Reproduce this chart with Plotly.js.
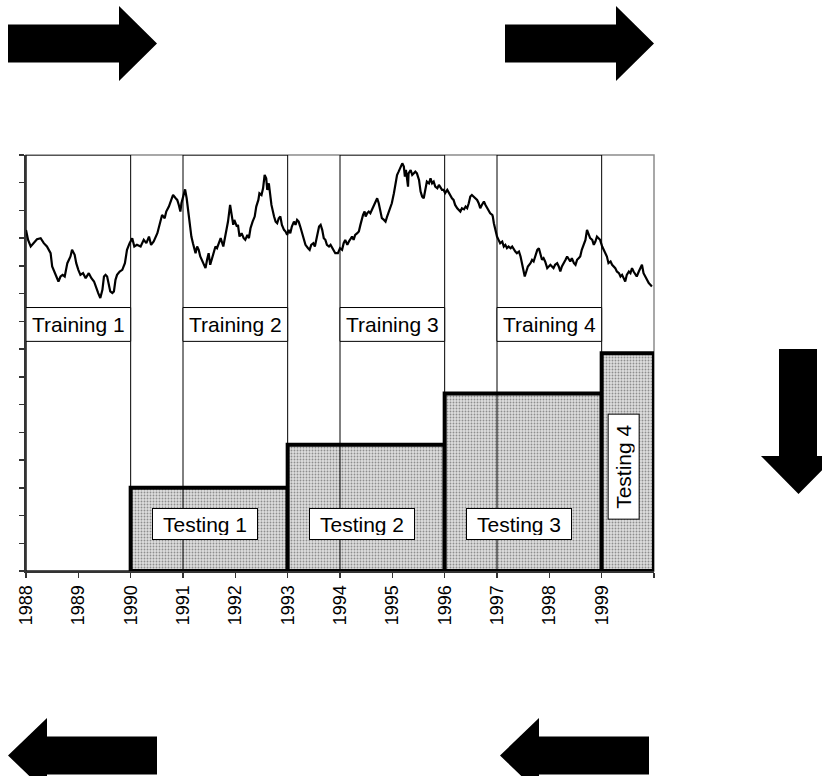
<!DOCTYPE html>
<html>
<head>
<meta charset="utf-8">
<script src="https://cdn.plot.ly/plotly-3.0.1.min.js"></script>
<style>
html,body{margin:0;padding:0;background:#fff;}
#chart{width:822px;height:776px;}
</style>
</head>
<body>
<div id="chart"></div>
<script>
// ---------------- DATA ----------------
const seriesDates = [
 1988.00,1988.04,1988.09,1988.15,1988.21,1988.28,1988.34,1988.40,1988.47,1988.50,
 1988.56,1988.62,1988.66,1988.70,1988.74,1988.79,1988.85,1988.88,1988.93,1988.96,
 1989.00,1989.04,1989.09,1989.14,1989.20,1989.25,1989.30,1989.34,1989.38,1989.42,
 1989.46,1989.49,1989.52,1989.55,1989.58,1989.61,1989.65,1989.68,1989.71,1989.74,
 1989.79,1989.84,1989.89,1989.93,1989.98,
 1990.03,1990.07,1990.12,1990.19,1990.25,1990.30,1990.35,1990.39,1990.44,1990.51,
 1990.56,1990.60,1990.65,1990.68,1990.73,1990.77,1990.81,1990.86,1990.89,1990.92,
 1990.95,1990.97,1991.00,1991.04,1991.07,1991.10,1991.13,1991.16,1991.19,1991.24,
 1991.27,1991.30,1991.33,1991.39,1991.43,1991.46,1991.49,1991.52,1991.56,1991.59,
 1991.62,1991.65,1991.69,1991.72,1991.77,1991.80,1991.83,1991.86,1991.90,1991.93,
 1991.96,1991.98,1992.03,
 1992.05,1992.08,1992.12,1992.16,1992.19,1992.23,1992.26,1992.29,1992.33,1992.37,
 1992.40,1992.44,1992.46,1992.50,1992.53,1992.56,1992.59,1992.61,1992.64,1992.66,
 1992.69,1992.74,1992.77,1992.80,1992.83,1992.86,1992.89,1992.93,1992.96,1992.99,
 1993.02,1993.05,1993.08,1993.12,1993.15,1993.18,1993.21,1993.24,1993.28,1993.31,
 1993.34,1993.39,1993.42,1993.45,1993.49,1993.52,1993.56,1993.60,1993.63,1993.66,
 1993.69,1993.72,1993.75,1993.79,1993.82,1993.85,1993.88,1993.91,1993.96,
 1994.00,1994.04,1994.07,1994.10,1994.14,1994.17,1994.20,1994.23,1994.26,1994.29,
 1994.33,1994.36,1994.39,1994.41,1994.44,1994.47,1994.49,1994.52,1994.55,1994.58,
 1994.61,1994.65,1994.68,1994.71,1994.74,1994.77,1994.80,1994.84,1994.87,1994.90,
 1994.93,1994.96,1994.99,1995.03,1995.06,1995.09,1995.12,1995.15,1995.19,1995.22,
 1995.24,1995.26,1995.30,1995.31,1995.35,1995.38,1995.41,1995.44,1995.47,1995.51,
 1995.54,1995.57,1995.60,1995.63,1995.66,1995.70,1995.73,1995.76,1995.79,1995.82,
 1995.86,1995.89,1995.92,1995.95,1995.98,1996.01,
 1996.05,1996.08,1996.11,1996.14,1996.17,1996.20,1996.24,1996.27,1996.30,1996.33,
 1996.37,1996.40,1996.43,1996.46,1996.49,1996.52,1996.56,1996.59,1996.62,1996.65,
 1996.68,1996.71,1996.75,1996.78,1996.81,1996.84,1996.87,1996.91,1996.92,1996.94,
 1996.97,1997.00,1997.03,1997.06,1997.10,1997.13,1997.16,1997.19,1997.22,1997.26,
 1997.29,1997.32,1997.35,1997.38,1997.42,1997.45,1997.48,1997.51,1997.53,1997.56,
 1997.59,1997.64,1997.67,1997.70,1997.73,1997.77,1997.80,1997.83,1997.86,1997.89,
 1997.92,1997.96,1997.99,1998.02,1998.05,
 1998.08,1998.11,1998.15,1998.18,1998.21,1998.24,1998.28,1998.31,1998.34,1998.37,
 1998.40,1998.43,1998.47,1998.50,1998.53,1998.56,1998.59,1998.62,1998.66,1998.69,
 1998.72,1998.75,1998.78,1998.82,1998.85,1998.88,1998.91,1998.94,1998.97,1999.01,
 1999.04,1999.07,1999.10,1999.13,1999.17,1999.20,1999.23,1999.26,1999.29,1999.33,
 1999.36,1999.39,1999.42,1999.45,1999.48,1999.52,1999.55,1999.58,1999.61,1999.64,
 1999.67,1999.71,1999.74,1999.77,1999.80,1999.83,1999.87,1999.90,1999.93,1999.96
];
const seriesValues = [
 12.30,11.94,11.70,11.82,11.96,12.00,11.82,11.70,11.46,10.98,
 10.74,10.44,10.62,10.68,10.62,11.10,11.34,11.58,11.40,11.10,
 10.86,10.68,10.74,10.56,10.74,10.56,10.44,10.20,10.02,9.84,
 10.14,10.62,10.68,10.62,10.38,10.08,10.02,10.08,10.50,10.68,
 10.80,10.86,11.10,11.58,11.82,
 12.00,11.70,11.76,11.70,11.94,11.82,12.06,11.76,11.88,12.18,
 12.60,12.84,12.72,12.96,13.14,13.38,13.56,13.44,13.38,13.20,
 12.96,13.26,13.50,13.76,13.44,12.96,12.42,12.06,11.82,11.46,
 11.70,11.58,11.34,11.10,10.92,11.22,11.46,11.04,11.34,11.52,
 11.70,11.64,11.88,12.00,11.70,12.00,12.42,12.60,13.20,12.90,
 12.48,12.66,12.42,
 12.48,12.06,12.18,12.00,11.94,12.12,12.00,12.36,12.60,12.78,
 13.14,13.38,13.62,13.56,13.80,14.28,14.16,13.74,13.98,13.62,
 13.20,12.78,12.60,12.54,12.72,12.78,12.48,12.30,12.24,12.12,
 12.30,12.18,12.42,12.60,12.48,12.66,12.60,12.42,12.18,11.94,
 11.76,11.64,11.58,11.76,11.82,11.70,12.12,12.42,12.48,12.30,
 12.00,11.94,11.76,11.70,11.76,11.64,11.52,11.46,11.46,
 11.64,11.58,11.82,11.94,11.76,11.88,12.00,12.06,11.94,12.12,
 12.18,12.24,12.48,12.66,12.84,12.96,12.78,12.90,12.96,12.90,
 13.02,13.14,13.32,13.44,13.26,12.96,12.72,12.66,12.60,12.78,
 12.96,13.08,13.26,13.62,13.98,14.28,14.40,14.52,14.70,14.58,
 14.22,14.46,13.86,14.34,14.46,14.28,14.34,14.40,14.34,14.10,
 13.68,13.50,13.44,13.74,14.04,13.98,14.16,13.98,14.04,13.86,
 13.80,13.92,13.80,13.74,13.74,13.63,
 13.74,13.62,13.50,13.44,13.38,13.20,13.08,13.02,12.96,13.08,
 13.04,13.14,13.08,13.26,13.50,13.56,13.50,13.44,13.38,13.26,
 13.08,13.20,13.32,13.20,13.08,12.96,12.90,12.84,12.78,12.54,
 12.30,12.06,11.94,11.82,11.88,11.70,11.76,11.64,11.70,11.64,
 11.70,11.58,11.52,11.46,11.52,11.34,11.04,10.86,10.62,10.80,
 10.98,11.10,11.22,11.16,11.34,11.58,11.64,11.46,11.22,11.28,
 11.16,10.92,10.98,11.04,10.98,
 10.92,11.04,11.10,10.98,10.80,10.98,11.10,11.22,11.34,11.22,
 11.16,11.28,11.10,11.04,11.22,11.28,11.34,11.58,11.82,11.94,
 12.30,12.12,12.00,11.94,11.76,11.88,12.06,12.00,11.94,11.70,
 11.58,11.46,11.34,11.10,11.16,11.04,10.98,10.92,10.80,10.74,
 10.62,10.68,10.56,10.44,10.68,10.80,10.74,10.92,10.80,10.68,
 10.62,10.80,10.92,11.04,10.74,10.62,10.50,10.38,10.32,10.26
];

const trainLabels = ["Training 1", "Training 2", "Training 3", "Training 4"];
const trainStart  = [1988, 1991, 1994, 1997];
const trainEnd    = [1990, 1993, 1996, 1999];

const testLabels  = ["Testing 1", "Testing 2", "Testing 3", "Testing 4"];
const testStart   = [1990, 1993, 1996, 1999];
const testEnd     = [1993, 1996, 1999, 2000];
const testHeight  = [3.0, 4.55, 6.4, 7.85];

const yearTicks   = [1988,1989,1990,1991,1992,1993,1994,1995,1996,1997,1998,1999,2000];
const yearLabels  = ["1988","1989","1990","1991","1992","1993","1994","1995","1996","1997","1998","1999",""];

// ---------------- LAYOUT HELPERS ----------------
const W = 822, H = 776;
const M = {l: 26, r: 168, t: 155, b: 205};
const PW = W - M.l - M.r, PH = H - M.t - M.b;
const fx = p => (p - M.l) / PW;          // pixel x -> paper x
const fy = p => (H - M.b - p) / PH;      // pixel y -> paper y
function poly(pts){
  return pts.map((p,i)=>(i?'L':'M')+fx(p[0]).toFixed(5)+','+fy(p[1]).toFixed(5)).join(' ')+' Z';
}
function rightArrow(x0, y0){ // x0 = left of shaft, y0 = top of head
  return poly([[x0,y0+18.5],[x0+111,y0+18.5],[x0+111,y0],[x0+149,y0+37.5],[x0+111,y0+75],[x0+111,y0+56.5],[x0,y0+56.5]]);
}
function leftArrow(x0, y0){ // x0 = tip x, y0 = top of head
  return poly([[x0,y0+37.5],[x0+39,y0],[x0+39,y0+18.5],[x0+149,y0+18.5],[x0+149,y0+56.5],[x0+39,y0+56.5],[x0+39,y0+75]]);
}
function downArrow(x0, y0){ // x0 = left of head, y0 = top of shaft
  return poly([[x0+18,y0],[x0+56,y0],[x0+56,y0+107],[x0+75,y0+107],[x0+37.5,y0+145],[x0,y0+107],[x0+18,y0+107]]);
}

const FONT = '"Liberation Sans", Arial, sans-serif';

// ---------------- TRACES ----------------
const barTrace = {
  type: 'bar',
  x: testStart.map((s,i)=>(s+testEnd[i])/2),
  width: testStart.map((s,i)=>testEnd[i]-s),
  y: testHeight,
  base: 0,
  marker: {
    color: '#d6d6d6',
    pattern: {shape: '.', fgcolor: '#8e8e8e', bgcolor: '#dedede', size: 3, solidity: 0.3},
    line: {color: '#000', width: 4}
  },
  cliponaxis: false,
  hoverinfo: 'skip',
  showlegend: false
};
const lineTrace = {
  type: 'scatter', mode: 'lines',
  x: seriesDates, y: seriesValues,
  line: {color: '#000', width: 2.2},
  hoverinfo: 'skip', showlegend: false
};

// ---------------- SHAPES / ANNOTATIONS ----------------
const shapes = [];
const annotations = [];
// plot frame (grey)
shapes.push({type:'rect', xref:'paper', yref:'paper', x0:0, x1:1, y0:0, y1:1,
  line:{color:'#8c8c8c', width:1.5}, layer:'below'});
// training windows
trainStart.forEach((s,i)=>{
  shapes.push({type:'rect', xref:'x', yref:'y', x0:s, x1:trainEnd[i], y0:0, y1:15,
    line:{color:'#000', width:1}, fillcolor:'rgba(0,0,0,0)', layer:'above'});
  shapes.push({type:'rect', xref:'x', yref:'y', x0:s, x1:trainEnd[i], y0:8.28, y1:9.5,
    line:{color:'#000', width:1}, fillcolor:'#fff', layer:'above'});
  annotations.push({x:(s+trainEnd[i])/2, y:8.89, xref:'x', yref:'y', text:trainLabels[i],
    showarrow:false, font:{family:FONT, size:21, color:'#000'}});
});
// testing labels
testStart.forEach((s,i)=>{
  const vertical = (testEnd[i]-s) < 2;
  annotations.push({
    x: (s+testEnd[i])/2 - 0.08, y: vertical ? 3.75 : 1.71, xref:'x', yref:'y',
    text: testLabels[i], showarrow:false, textangle: vertical ? -90 : 0,
    font:{family:FONT, size:21, color:'#000'},
    bgcolor:'#fff', bordercolor:'#000', borderwidth:1, borderpad:4,
    width: 96, height: 22
  });
});
// decorative arrows
[rightArrow(8,6), rightArrow(505,6), downArrow(761,349), leftArrow(8,718), leftArrow(500,718)].forEach(p=>{
  shapes.push({type:'path', xref:'paper', yref:'paper', path:p, fillcolor:'#000', line:{width:0}, layer:'above'});
});

const layout = {
  width: W, height: H,
  margin: M,
  paper_bgcolor: '#fff', plot_bgcolor: '#fff',
  font: {family: FONT, color: '#000'},
  showlegend: false,
  bargap: 0,
  xaxis: {
    range: [1988, 2000], tickmode: 'array', tickvals: yearTicks, ticktext: yearLabels,
    tickangle: -90, tickfont: {family: FONT, size: 18, color: '#000'},
    ticks: 'outside', ticklen: 5, tickwidth: 1.5, tickcolor: '#333',
    showline: true, linecolor: '#333', linewidth: 2,
    showgrid: false, zeroline: false, fixedrange: true
  },
  yaxis: {
    range: [0, 15], tickmode: 'linear', tick0: 0, dtick: 1,
    showticklabels: false, ticks: 'outside', ticklen: 5, tickwidth: 1.5, tickcolor: '#333',
    showline: true, linecolor: '#333', linewidth: 2,
    showgrid: false, zeroline: false, fixedrange: true
  },
  shapes: shapes,
  annotations: annotations
};

Plotly.newPlot('chart', [barTrace, lineTrace], layout, {staticPlot: true, displayModeBar: false});
</script>
</body>
</html>
